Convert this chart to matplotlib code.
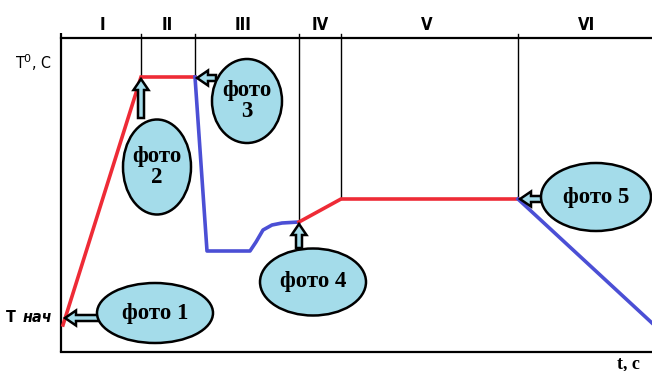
import matplotlib
matplotlib.use("Agg")
import matplotlib.pyplot as plt
from matplotlib.patches import Ellipse, FancyArrow

# ---- data (time in px-like units, temperature in px-like units) ----
heat_t = [63, 141, 195]
heat_T = [27, 275, 275]
quench_t = [195, 207, 250, 256, 263, 272, 282, 299]
quench_T = [275, 101, 101, 110, 122, 127, 129, 130]
reheat_t = [299, 341, 518]
reheat_T = [130, 153, 153]
cool_t = [518, 652]
cool_T = [153, 29]

stage_bounds = [141, 195, 299, 341, 518]
stage_bound_T = [275, 275, 130, 153, 153]
stage_labels = ["I", "II", "III", "IV", "V", "VI"]
stage_label_x = [102, 167, 243, 320, 427, 587]

photo_labels = ["фото 1", "фото\n2", "фото\n3", "фото 4", "фото 5"]
photo_center = [(155, 39), (157, 185), (247, 251), (313, 70), (596, 155)]
photo_size = [(116, 60), (68, 95), (70, 84), (106, 67), (110, 68)]
# arrow: start (x,y), dx, dy
photo_arrow = [((99, 34), -34, 0), ((141, 234), 0, 39), ((216, 274), -19, 0),
               ((299, 104), 0, 24), ((546, 153), -26, 0)]

RED = "#ee2b36"
BLUE = "#4b4fd5"
FILL = "#a4dcea"
SANS = ["Liberation Sans Narrow", "DejaVu Sans"]

fig = plt.figure(figsize=(6.52, 3.71), dpi=100)
ax = fig.add_axes([0, 0, 1, 1])
ax.set_xlim(0, 652)
ax.set_ylim(-19, 352)
ax.axis("off")

# frame
ax.plot([61, 61], [0, 319], color="black", lw=1.6, solid_capstyle="butt")
ax.plot([61, 652], [0, 0], color="black", lw=1.6)
ax.plot([61, 652], [314, 314], color="black", lw=1.6)

# stage boundaries
for xb, yb in zip(stage_bounds, stage_bound_T):
    ax.plot([xb, xb], [yb, 318], color="black", lw=1.0)

for lab, xl in zip(stage_labels, stage_label_x):
    ax.text(xl, 327, lab, ha="center", va="center", fontsize=12, fontweight="bold",
            family=SANS, fontstretch="condensed")

# curves
ax.plot(heat_t, heat_T, color=RED, lw=2.6, solid_joinstyle="miter")
ax.plot(quench_t, quench_T, color=BLUE, lw=2.6)
ax.plot(reheat_t, reheat_T, color=RED, lw=2.6)
ax.plot(cool_t, cool_T, color=BLUE, lw=2.6)

# axis labels
ax.text(33, 289, r"T$^{0}$, C", ha="center", va="center", fontsize=11.5,
        family=SANS, fontstretch="condensed")
ax.text(6, 34, "T ", ha="left", va="center", fontsize=11.5, fontweight="bold",
        family=SANS, fontstretch="condensed")
ax.text(23, 34, "нач", ha="left", va="center", fontsize=11.5, fontweight="bold",
        style="italic", family=SANS, fontstretch="condensed")
ax.text(628, -12, "t, c", ha="center", va="center", fontsize=13, fontweight="bold",
        family=["Liberation Serif", "DejaVu Serif"])

# photo callouts
for lab, (cx, cy), (w, h), ((sx, sy), dx, dy) in zip(photo_labels, photo_center,
                                                   photo_size, photo_arrow):
    arr = FancyArrow(sx, sy, dx, dy, width=6, head_width=15, head_length=11,
                     length_includes_head=True, facecolor=FILL, edgecolor="black",
                     lw=1.8, zorder=4)
    ax.add_patch(arr)
    ell = Ellipse((cx, cy), w, h, facecolor=FILL, edgecolor="black", lw=1.8, zorder=5)
    ax.add_patch(ell)
    ax.text(cx, cy, lab, ha="center", va="center", fontsize=16.5, fontweight="bold",
            family=["Liberation Serif", "DejaVu Serif"], linespacing=1.05, zorder=6)

fig.savefig("out.png", dpi=100)
